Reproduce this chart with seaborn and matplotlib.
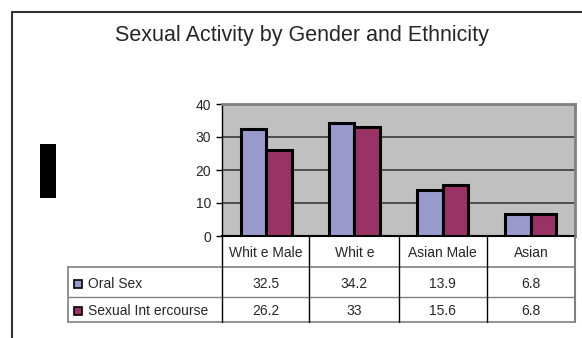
import matplotlib
matplotlib.use("Agg")
import matplotlib.pyplot as plt
from matplotlib.lines import Line2D
from matplotlib.patches import Rectangle
import seaborn as sns
import pandas as pd

categories = ["White Male", "White", "Asian Male", "Asian"]
category_labels = ["Whit e Male", "Whit e", "Asian Male", "Asian"]
series_names = ["Oral Sex", "Sexual Intercourse"]
series_labels = ["Oral Sex", "Sexual Int ercourse"]
oral_sex = [32.5, 34.2, 13.9, 6.8]
intercourse = [26.2, 33, 15.6, 6.8]
value_labels = [["32.5", "34.2", "13.9", "6.8"], ["26.2", "33", "15.6", "6.8"]]
y_ticks = [0, 10, 20, 30, 40]
colors = ["#9999CC", "#993366"]

df = pd.DataFrame({
    "group": categories * 2,
    "series": [series_names[0]] * 4 + [series_names[1]] * 4,
    "value": oral_sex + intercourse,
})

sns.set_theme(style="white")
plt.rcParams["font.family"] = ["Liberation Sans", "DejaVu Sans"]

W, H = 582, 338
fig = plt.figure(figsize=(W / 100, H / 100), dpi=100)
fig.patch.set_facecolor("white")


def fx(px):
    return px / W


def fy(py):
    return 1 - py / H


# plot area in pixel coordinates
L, R, T, B = 222, 575, 104, 236
ax = fig.add_axes([fx(L), fy(B), fx(R - L), (B - T) / H])
ax.set_facecolor("#C0C0C0")

sns.barplot(data=df, x="group", y="value", hue="series", order=categories,
            hue_order=series_names, palette=colors, width=0.58, saturation=1,
            edgecolor="black", linewidth=2.2, ax=ax, legend=False, zorder=3)

ax.set_ylim(0, 40)
ax.set_xlim(-0.5, 3.5)
ax.set_yticks(y_ticks)
ax.set_yticklabels([str(t) for t in y_ticks], fontsize=10)
ax.tick_params(axis="y", length=4, width=1, color="black", pad=4, left=True)
ax.tick_params(axis="x", bottom=False, labelbottom=False)
ax.set_xlabel("")
ax.set_ylabel("")
ax.yaxis.grid(True, color="#3a3a3a", linewidth=1.2, zorder=1)
ax.set_axisbelow(True)
for side in ["top", "right"]:
    ax.spines[side].set_color("#808080")
    ax.spines[side].set_linewidth(2)
ax.spines["left"].set_color("black")
ax.spines["left"].set_linewidth(1)
ax.spines["bottom"].set_color("black")
ax.spines["bottom"].set_linewidth(1.5)

# data table below the plot area
row_tops = [236, 266.5, 296.5, 322]
col_edges = [222, 309, 399, 487, 575]
tbl_left = 67.5
FS = 10


def hline(y, x0, x1, color, lw=1.0):
    fig.add_artist(Line2D([fx(x0), fx(x1)], [fy(y), fy(y)], color=color, lw=lw))


def vline(x, y0, y1, color, lw=1.0):
    fig.add_artist(Line2D([fx(x), fx(x)], [fy(y0), fy(y1)], color=color, lw=lw))


hline(row_tops[1], tbl_left, R, "#808080", 1.2)
hline(row_tops[2], tbl_left, R, "#808080", 1.0)
hline(row_tops[3], tbl_left, R, "#808080", 1.2)
vline(tbl_left, row_tops[1], row_tops[3], "#808080", 1.2)
vline(L, 236, row_tops[3], "black", 1.0)
for x in col_edges[1:-1]:
    vline(x, 236, row_tops[3], "black", 1.0)
vline(R, 236, row_tops[3], "#808080", 1.5)

# category header row, centred under each group's ticks
for i, lab in enumerate(category_labels):
    xc = ax.transData.transform((i, 0))[0]
    fig.text(xc / W, fy((row_tops[0] + row_tops[1]) / 2 + 1.5), lab,
             ha="center", va="center", fontsize=FS)

# value rows with legend keys
for r in range(2):
    yc = (row_tops[r + 1] + row_tops[r + 2]) / 2 + 2
    fig.add_artist(Rectangle((fx(73.5), fy(yc + 4)), 8 / W, 8 / H,
                             facecolor=colors[r], edgecolor="black", lw=1.2))
    fig.text(fx(88), fy(yc), series_labels[r], ha="left", va="center", fontsize=FS)
    for i, v in enumerate(value_labels[r]):
        xc = ax.transData.transform((i, 0))[0]
        fig.text(xc / W, fy(yc), v, ha="center", va="center", fontsize=FS)

# title
fig.text(fx(302), fy(36), "Sexual Activity by Gender and Ethnicity",
         ha="center", va="center", fontsize=15.5)

# solid block on the left of the chart
fig.add_artist(Rectangle((fx(40), fy(198)), 16 / W, 54 / H,
                         facecolor="black", edgecolor="none"))

# outer chart frame
vline(11.5, 12, 338, "#333333", 1.5)
hline(12, 11.5, 582, "#333333", 1.5)

fig.savefig("out.png", dpi=100, facecolor="white")
